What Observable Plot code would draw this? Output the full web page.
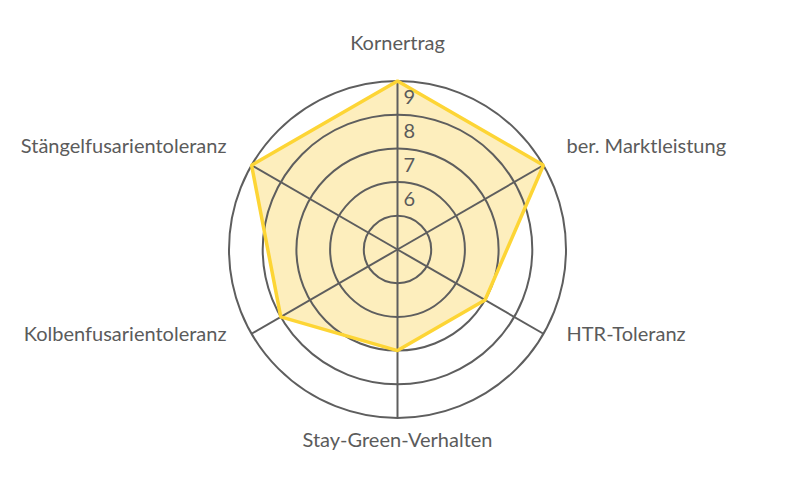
<!DOCTYPE html>
<html>
<head>
<meta charset="utf-8">
<script src="https://cdn.jsdelivr.net/npm/d3@7"></script>
<script src="https://cdn.jsdelivr.net/npm/@observablehq/plot@0.6"></script>
<style>
  html, body { margin: 0; padding: 0; background: #fff; }
  svg { display: block; }
</style>
</head>
<body>
<div id="chart"></div>
<script>
// Data
const categories = ["Kornertrag", "ber. Marktleistung", "HTR-Toleranz", "Stay-Green-Verhalten", "Kolbenfusarientoleranz", "Stängelfusarientoleranz"];
const values = [9, 9, 7, 7, 8, 9];
const ringValues = [5, 6, 7, 8, 9];
const ringLabels = ["6", "7", "8", "9"];

const base = 4;          // value at the centre
const maxR = 9 - base;   // outer ring
const px = 33.7;         // pixels per unit
const W = 791, H = 500, cx = 397, cy = 249;

const n = categories.length;
const angle = i => (i * 2 * Math.PI) / n;
const pt = (v, i) => ({x: (v - base) * Math.sin(angle(i)), y: (v - base) * Math.cos(angle(i))});

const poly = values.map((v, i) => ({...pt(v, i), cat: categories[i]}));
const spokes = categories.map((c, i) => ({x1: 0, y1: 0, x2: maxR * Math.sin(angle(i)), y2: maxR * Math.cos(angle(i))}));
const rings = ringValues.map(v => ({x: 0, y: 0, r: v - base}));
const ticks = ringLabels.map(t => ({x: 0, y: +t - base, label: t}));

// label placement
const labR = 6.1;
const labels = categories.map((c, i) => {
  const s = Math.sin(angle(i)), co = Math.cos(angle(i));
  const side = Math.abs(s) < 1e-6 ? "middle" : (s > 0 ? "start" : "end");
  return {x: labR * s, y: labR * co, label: c, anchor: side, upper: co > 0, top: co > 0.99, bottom: co < -0.99};
});

const grid = "#5e5e5e";
const textColor = "#5b5b5b";
const font = "Lato, 'Open Sans', sans-serif";
const fs = 20;

const chart = Plot.plot({
  width: W,
  height: H,
  margin: 0,
  x: {domain: [-cx / px, (W - cx) / px], axis: null},
  y: {domain: [-(H - cy) / px, cy / px], axis: null},
  r: {type: "linear", domain: [0, maxR], range: [0, maxR * px]},
  style: {fontFamily: font, color: textColor, background: "#fff"},
  marks: [
    Plot.line(poly, {x: "x", y: "y", curve: "linear-closed", fill: "#fdeebd", stroke: "none"}),
    Plot.dot(rings, {x: "x", y: "y", r: "r", stroke: grid, strokeWidth: 2, fill: "none"}),
    Plot.link(spokes, {x1: "x1", y1: "y1", x2: "x2", y2: "y2", stroke: grid, strokeWidth: 2}),
    Plot.line(poly, {x: "x", y: "y", curve: "linear-closed", stroke: "#fdd535", strokeWidth: 3.5, strokeLinejoin: "miter"}),
    Plot.text(ticks, {x: "x", y: "y", text: "label", dx: 6, dy: 17, textAnchor: "start", fontSize: fs, fill: textColor}),
    Plot.text(labels.filter(d => d.top), {x: "x", y: "y", text: "label", textAnchor: "middle", fontSize: fs, fill: textColor}),
    Plot.text(labels.filter(d => d.bottom), {x: "x", y: "y", text: "label", textAnchor: "middle", dy: -14, fontSize: fs, fill: textColor}),
    Plot.text(labels.filter(d => d.anchor === "start" && d.upper), {x: "x", y: "y", text: "label", textAnchor: "start", dx: -9, fontSize: fs, fill: textColor}),
    Plot.text(labels.filter(d => d.anchor === "start" && !d.upper), {x: "x", y: "y", text: "label", textAnchor: "start", dx: -9, dy: -18, fontSize: fs, fill: textColor}),
    Plot.text(labels.filter(d => d.anchor === "end" && d.upper), {x: "x", y: "y", text: "label", textAnchor: "end", dx: 7, fontSize: fs, fill: textColor}),
    Plot.text(labels.filter(d => d.anchor === "end" && !d.upper), {x: "x", y: "y", text: "label", textAnchor: "end", dx: 7, dy: -18, fontSize: fs, fill: textColor})
  ]
});
document.getElementById("chart").appendChild(chart);
</script>
</body>
</html>
